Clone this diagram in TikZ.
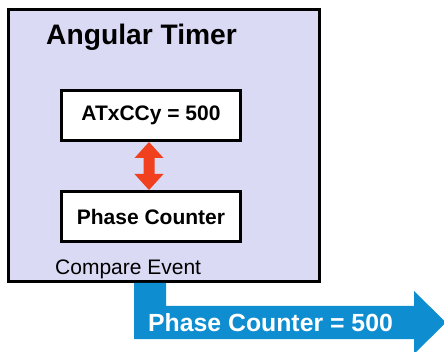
\documentclass[tikz,border=0pt]{standalone}
\usepackage{fontspec}
\setmainfont{Liberation Sans}
\usetikzlibrary{calc}
\definecolor{lav}{RGB}{218,218,244}
\definecolor{evblue}{RGB}{14,141,208}
\definecolor{cmpred}{RGB}{240,64,30}
\tikzset{
  innerbox/.style={draw=black, line width=3pt, fill=white, minimum width=179pt, minimum height=50pt, inner sep=0pt,
    font=\fontsize{21}{24}\selectfont\bfseries},
  txt/.style={inner sep=0pt}
}
\begin{document}
\begin{tikzpicture}[x=1pt,y=-1pt]
\useasboundingbox (0,0) rectangle (444,352);
\clip (0,0) rectangle (444,352);
% outer timer box
\node[draw=black, line width=3pt, fill=lav, minimum width=311pt, minimum height=272pt, inner sep=0pt] (timer) at (164,145.5) {};
% blue event arrow
\coordinate (bs) at (134,283);
\fill[evblue] (bs) -- ++(32,0) -- (166,306) -- (414,306) -- (414,291) -- (446,322.5) -- (414,354) -- (414,339) -- (134,339) -- cycle;
\node[txt, text=white, font=\fontsize{24.8}{28}\selectfont\bfseries, anchor=base west] (evt) at (148,331) {Phase Counter = 500};
% title
\node[txt, font=\fontsize{28.2}{32}\selectfont\bfseries, anchor=base west] (title) at (46,45) {Angular Timer};
% inner boxes
\node[innerbox] (cmp) at (151,115.5) {ATxCCy = 500};
\node[innerbox] (pc) at (151,216.5) {Phase Counter};
% red double arrow
\fill[cmpred] ($(cmp.south)+(-2,0)$) -- ++(14.5,16) -- ++(-9,0) -- ++(0,16) -- ++(9,0) -- ($(pc.north)+(-2,0)$) -- ++(-14.5,-16) -- ++(9,0) -- ++(0,-16) -- ++(-9,0) -- cycle;
% compare event label
\node[txt, font=\fontsize{21}{24}\selectfont, anchor=base west] (ce) at (55,275) {Compare Event};
\end{tikzpicture}
\end{document}
